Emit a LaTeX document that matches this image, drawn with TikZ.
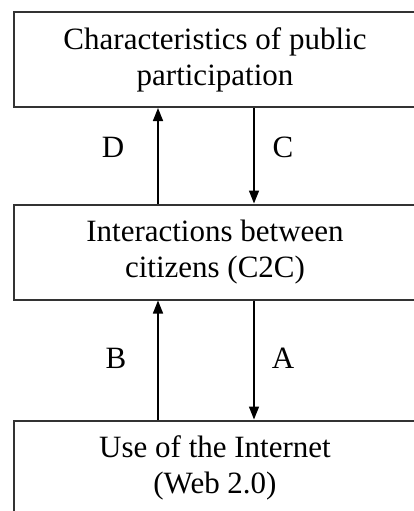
\documentclass[tikz,border=0pt]{standalone}
\usepackage{fontspec}
\setmainfont{Liberation Serif}
\usetikzlibrary{arrows.meta}

\begin{document}
\begin{tikzpicture}[x=1pt, y=-1pt,
            box/.style={draw=black!80, line width=2pt, minimum width=402pt, minimum height=95pt,
                align=center, font=\fontsize{31}{36}\selectfont, inner sep=0pt,
                execute at begin node={\rule{0pt}{41pt}}},
            arr/.style={line width=1.5pt, -{Triangle[width=10pt, length=13pt]}},
            lbl/.style={font=\fontsize{31}{36}\selectfont, inner sep=0pt}]
            \useasboundingbox (0, 0) rectangle (414, 511);
            \clip (0, 0) rectangle (414, 511);
            \node[box] (top) at (215, 59.5) {Characteristics of public\\participation};
            \node[box] (mid) at (215, 252) {Interactions between\\citizens (C2C)};
            \node[box] (web) at (215, 468) {Use of the Internet\\(Web 2.0)};

            \draw[arr] ([xshift=-57pt]mid.north) -- ([xshift=-57pt]top.south);
            \draw[arr] ([xshift=39pt]top.south) -- ([xshift=39pt]mid.north);
            \draw[arr] ([xshift=-57pt]web.north) -- ([xshift=-57pt]mid.south);
            \draw[arr] ([xshift=39pt]mid.south) -- ([xshift=39pt]web.north);

            \node[lbl] (d) at (113, 147) {D};
            \node[lbl] (c) at (283, 147) {C};
            \node[lbl] (b) at (116, 358) {B};
            \node[lbl] (a) at (283, 358) {A};
\end{tikzpicture}
\end{document}
